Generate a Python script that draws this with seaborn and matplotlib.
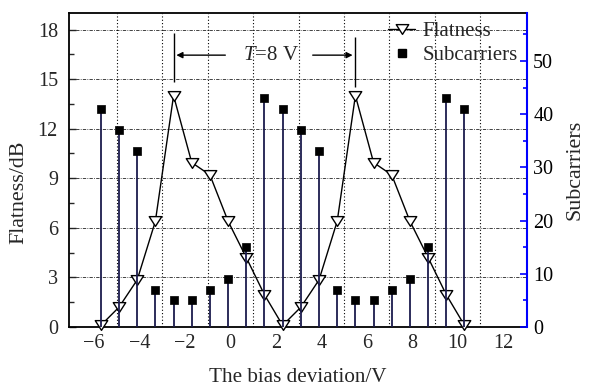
import numpy as np
import pandas as pd
import matplotlib
matplotlib.use("Agg")
import matplotlib.pyplot as plt
from matplotlib.lines import Line2D
from matplotlib.path import Path
from matplotlib.ticker import MultipleLocator
import seaborn as sns

# data
bias = [-5.7, -4.9, -4.1, -3.3, -2.5, -1.7, -0.9, -0.1, 0.7, 1.5, 2.3,
        3.1, 3.9, 4.7, 5.5, 6.3, 7.1, 7.9, 8.7, 9.5, 10.3]
flatness = [0.1, 1.2, 2.85, 6.4, 14.0, 9.95, 9.2, 6.4, 4.2, 1.95, 0.1,
            1.2, 2.85, 6.4, 14.0, 9.95, 9.2, 6.4, 4.2, 1.95, 0.1]
subcarriers = [41, 37, 33, 7, 5, 5, 7, 9, 15, 43, 41,
               37, 33, 7, 5, 5, 7, 9, 15, 43, 41]
period_text = r"$T$=8 V"
peaks = [-2.5, 5.5]

df = pd.DataFrame({"bias": bias, "flatness": flatness, "subcarriers": subcarriers})

sns.set_style("white")
plt.rcParams["font.family"] = ["Liberation Serif", "DejaVu Serif"]
plt.rcParams["mathtext.fontset"] = "custom"
plt.rcParams["mathtext.rm"] = "Liberation Serif"
plt.rcParams["mathtext.it"] = "Liberation Serif:italic"
fs = 14.5

fig = plt.figure(figsize=(5.91, 3.89), dpi=100)
ax = fig.add_axes([69 / 591, 62 / 389, 458 / 591, 314 / 389])
ax2 = ax.twinx()

# flattened down-pointing triangle (closed path)
tri = Path([(-1, 0.78), (1, 0.78), (0, -0.78), (-1, 0.78)],
           [Path.MOVETO, Path.LINETO, Path.LINETO, Path.CLOSEPOLY])

# flatness curve (left axis)
sns.lineplot(data=df, x="bias", y="flatness", ax=ax, color="black", lw=1,
             marker=tri, ms=9, mfc="white", mec="black", mew=1,
             estimator=None, sort=False, legend=False, clip_on=False, zorder=3)

# subcarriers stems (right axis)
ax2.vlines(df["bias"], 0, df["subcarriers"], color="#1b1b4d", lw=1.3, zorder=2)
sns.scatterplot(data=df, x="bias", y="subcarriers", ax=ax2, marker="s", s=36,
                color="black", edgecolor="black", linewidth=0.5, zorder=3, legend=False)

ax.set_xlim(-7.1, 13.05)
ax.set_ylim(0, 19)
ax2.set_ylim(0, 59)

ax.xaxis.set_major_locator(MultipleLocator(2))
ax.xaxis.set_minor_locator(MultipleLocator(1))
ax.yaxis.set_major_locator(MultipleLocator(3))
ax.yaxis.set_minor_locator(MultipleLocator(1.5))
ax2.yaxis.set_major_locator(MultipleLocator(10))
ax2.yaxis.set_minor_locator(MultipleLocator(5))

# grid: dash-dot horizontals on left ticks, dotted verticals on odd x
for yv in np.arange(3, 19, 3):
    ax.axhline(yv, color="#222222", lw=0.6, ls=(0, (4, 1.5, 1, 1.5)), zorder=1)
for xv in np.arange(-5, 13, 2):
    ax.axvline(xv, color="black", lw=0.8, ls=(0, (1, 2)), zorder=1)

ax.tick_params(axis="both", which="both", direction="in", labelsize=fs,
               top=False, right=False)
ax.tick_params(axis="both", which="major", length=5, width=1)
ax.tick_params(axis="both", which="minor", length=3.5, width=1)
ax.tick_params(axis="y", pad=8)
ax.tick_params(axis="x", pad=5)
ax2.tick_params(axis="y", which="both", direction="in", colors="#0000ff",
                labelcolor="black", labelsize=fs, pad=4.5)
ax2.tick_params(axis="y", which="major", length=5, width=1.2)
ax2.tick_params(axis="y", which="minor", length=3, width=1.2)

ax.set_xticklabels([f"{int(v)}".replace("-", "\u2212") for v in ax.get_xticks()])

for s in ["left", "bottom", "top"]:
    ax.spines[s].set_color("black")
    ax.spines[s].set_linewidth(1.3)
ax.spines["right"].set_visible(False)
for s in ["left", "bottom", "top"]:
    ax2.spines[s].set_visible(False)
ax2.spines["right"].set_color("#0000ff")
ax2.spines["right"].set_linewidth(1.5)

ax.set_xlabel("The bias deviation/V", fontsize=15.2, labelpad=11)
ax.set_ylabel("Flatness/dB", fontsize=15.8)
ax.yaxis.set_label_coords(-0.089, 0.43)
ax2.set_ylabel("Subcarriers", fontsize=15.8, labelpad=9, rotation=90)

# period annotation
ax.vlines(peaks[0], 14.8, 17.8, color="black", lw=1, zorder=4)
ax.vlines(peaks[1], 14.5, 17.55, color="black", lw=1, zorder=4)
ax.annotate("", xy=(peaks[0], 16.45), xytext=(-0.1, 16.45),
            arrowprops=dict(arrowstyle="-|>", color="black", lw=1, mutation_scale=9))
ax.annotate("", xy=(peaks[1], 16.45), xytext=(3.5, 16.45),
            arrowprops=dict(arrowstyle="-|>", color="black", lw=1, mutation_scale=9))
ax.text(1.8, 16.45, period_text, fontsize=15, ha="center", va="center")

handles = [Line2D([], [], color="black", lw=1, marker=tri, ms=9, mfc="white", mec="black"),
           Line2D([], [], ls="", marker="s", ms=6, color="black")]
ax2.legend(handles, ["Flatness", "Subcarriers"], loc="upper left",
           bbox_to_anchor=(0.6965, 0.972), frameon=False, fontsize=15,
           borderpad=0, handlelength=1.3, handletextpad=0.35, labelspacing=0.2,
           borderaxespad=0)

fig.savefig("out.png", dpi=100)
